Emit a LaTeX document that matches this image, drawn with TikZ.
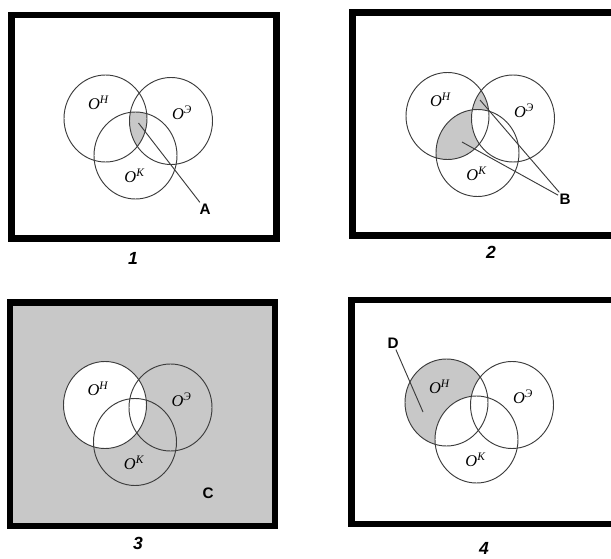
\documentclass[tikz,border=0pt]{standalone}
\usepackage{fontspec}
\setmainfont{Liberation Serif}
\setsansfont{Liberation Sans}
\usepackage{tikz}
\usetikzlibrary{positioning}
\usepackage{xcolor}
\definecolor{setgray}{RGB}{200,200,200}
\definecolor{rimgray}{RGB}{60,60,60}

% the three sets, relative to the centre of O^H
\def\rx{41.5}\def\ry{43.5}
\def\setH{(0,0) ellipse [x radius=\rx,y radius=\ry]}
\def\setE{(65.5,2.5) ellipse [x radius=\rx,y radius=\ry]}
\def\setK{(30,37) ellipse [x radius=\rx,y radius=\ry]}
\newcommand{\drawvenn}[1]{%
  \draw[rim] \setH; \draw[rim] \setE; \draw[rim] \setK;
  \node[setlbl] (oh#1) at (-7,-16) {O\textsuperscript{Н}};
  \node[setlbl] (oe#1) at (76.5,-5.5) {O\textsuperscript{Э}};
  \node[setlbl] (ok#1) at (29,57.5) {O\textsuperscript{К}};
}

\begin{document}
\begin{tikzpicture}[x=0.03cm,y=-0.03cm,
    rim/.style={draw=rimgray,line width=0.8pt},
    frame/.style={draw=black,line width=5.5pt},
    setlbl/.style={font=\fontsize{14}{16}\selectfont\itshape,inner sep=0pt},
    tag/.style={font=\sffamily\bfseries\fontsize{13}{15}\selectfont,inner sep=1pt},
    num/.style={font=\sffamily\bfseries\itshape\fontsize{15}{18}\selectfont}]
  \useasboundingbox (0,0) rectangle (611,559);
  \clip (0,0) rectangle (611,559);
  % 1: all three
  \draw[frame] (11.5,15) rectangle (276.5,238.5);
  \begin{scope}[shift={(105.5,118.5)}]
    \begin{scope}
      \clip \setH; \clip \setE;
      \fill[setgray] \setK;
    \end{scope}
    \drawvenn{1}
    \coordinate (a1) at (33,4.5);
  \end{scope}
  \node[tag] (A) at (205,209) {A};
  \draw[rim] (A) -- (a1);
  \node[num] (n1) at (133,258) {1};
  % 2: H and exactly one of the others
  \draw[frame] (352.5,12.5) rectangle (640,235.5);
  \begin{scope}[shift={(447.5,116)}]
    \begin{scope}
      \clip \setH;
      \fill[setgray,even odd rule] \setE \setK;
    \end{scope}
    \drawvenn{2}
    \coordinate (b1) at (32.5,-16);
    \coordinate (b2) at (14.5,26);
  \end{scope}
  \node[tag] (B) at (565,199) {B};
  \draw[rim] (B) -- (b1);
  \draw[rim] (B) -- (b2);
  \node[num] (n2) at (491,252) {2};
  % 3: complement of H
  \fill[setgray] (10,302.5) rectangle (275,526);
  \draw[frame] (10,302.5) rectangle (275,526);
  \begin{scope}[shift={(105,405)}]
    \fill[white] \setH;
    \drawvenn{3}
  \end{scope}
  \node[tag] (C) at (208,493) {C};
  \node[num] (n3) at (138,543) {3};
  % 4: H only
  \draw[frame] (351.5,300) rectangle (640,524);
  \begin{scope}[shift={(446.5,402.5)}]
    \begin{scope}
      \clip \setH;
      \fill[setgray] \setH;
      \fill[white] \setE;
      \fill[white] \setK;
    \end{scope}
    \drawvenn{4}
    \coordinate (d1) at (-23.5,9.5);
  \end{scope}
  \node[tag] (D) at (393,343) {D};
  \draw[rim] (D) -- (d1);
  \node[num] (n4) at (484,548) {4};
\end{tikzpicture}
\end{document}
